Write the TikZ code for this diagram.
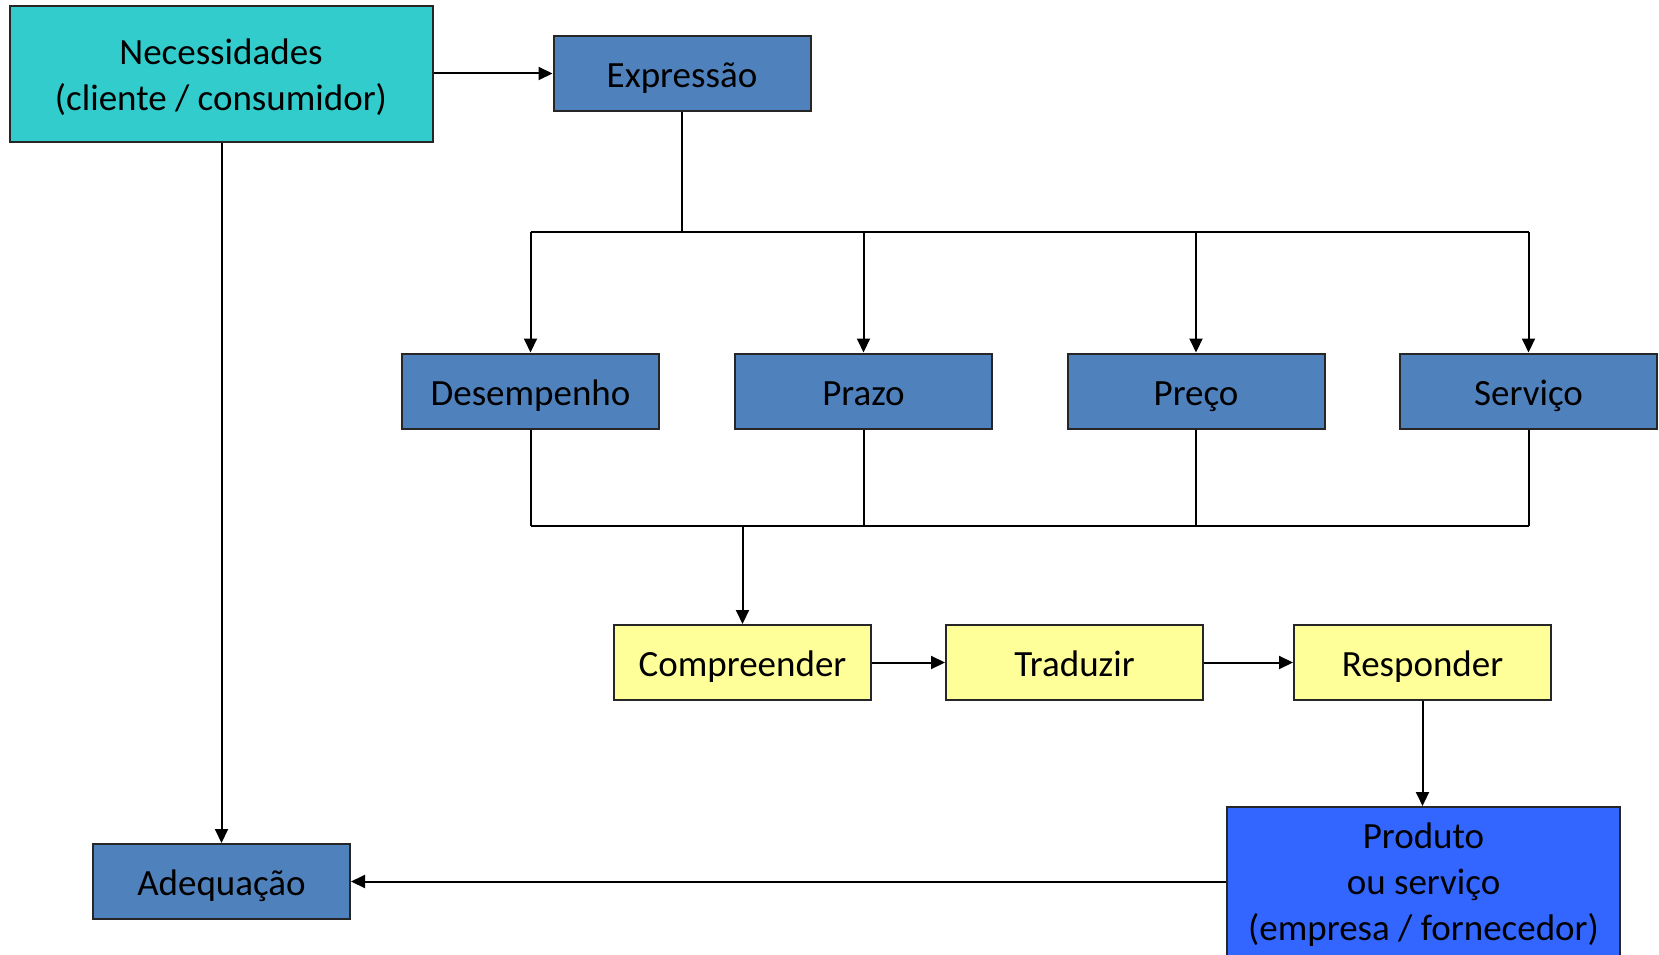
\documentclass[tikz,border=0pt]{standalone}
\usepackage{fontspec}
\setmainfont{Carlito}
\usetikzlibrary{arrows.meta}
\definecolor{cyanbox}{HTML}{33CCCC}
\definecolor{bluebox}{HTML}{4F81BD}
\definecolor{yellowbox}{HTML}{FFFF99}
\definecolor{prodblue}{HTML}{3366FF}
\tikzset{
  txt/.style={font=\fontsize{37}{46}\selectfont},
  box/.style={draw=black!85, line width=2pt, minimum width=257pt, minimum height=75pt, inner sep=0pt, align=center, txt},
  one/.style={box, text height=28pt, text depth=0pt},
  bluenode/.style={one, fill=bluebox},
  yellownode/.style={one, fill=yellowbox},
  multi/.style={txt, align=center, inner sep=0pt},
  conn/.style={line width=2pt, black},
  arr/.style={conn, -{Triangle[length=14pt,width=13pt]}},
}
\begin{document}
\begin{tikzpicture}[x=1pt,y=1pt]
\useasboundingbox (0,0) rectangle (1659,-955);
\clip (0,0) rectangle (1659,-955);
\node[box, fill=cyanbox, minimum width=423pt, minimum height=136pt,
  label={[multi, yshift=-3pt]center:Necessidades\\(cliente / consumidor)}] (nec) at (221,-74) {};
\node[bluenode] (exp) at (682,-73.5) {Expressão};
\node[bluenode] (des) at (530.5,-391) {Desempenho};
\node[bluenode] (praz) at (863.5,-391) {Prazo};
\node[bluenode] (prec) at (1196,-391) {Preço};
\node[bluenode] (serv) at (1528.5,-391) {Serviço};
\node[yellownode] (comp) at (742.5,-662.5) {Compreender};
\node[yellownode] (trad) at (1074.5,-662.5) {Traduzir};
\node[yellownode] (resp) at (1422.5,-662.5) {Responder};
\node[box, fill=prodblue, minimum width=393pt, minimum height=152pt,
  label={[multi, yshift=-2pt]center:Produto\\ou serviço\\(empresa / fornecedor)}] (prod) at (1423.5,-883) {};
\node[bluenode] (adeq) at (221.5,-881.5) {Adequação};

\coordinate (top) at (682,-232);
\coordinate (bot) at (742.5,-526);

\draw[arr] (nec.east |- exp.west) -- (exp.west);
\draw[conn] (exp.south) -- (top);
\draw[conn] (des.north |- top) -- (serv.north |- top);
\foreach \n in {des,praz,prec,serv}{
  \draw[arr] (\n.north |- top) -- (\n.north);
  \draw[conn] (\n.south) -- (\n.south |- bot);
}
\draw[conn] (des.south |- bot) -- (serv.south |- bot);
\draw[arr] (bot) -- (comp.north);
\draw[arr] (comp.east) -- (trad.west);
\draw[arr] (trad.east) -- (resp.west);
\draw[arr] (resp.south) -- (resp.south |- prod.north);
\draw[arr] (prod.west |- adeq.east) -- (adeq.east);
\draw[arr] (nec.south -| adeq.north) -- (adeq.north);
\end{tikzpicture}
\end{document}
